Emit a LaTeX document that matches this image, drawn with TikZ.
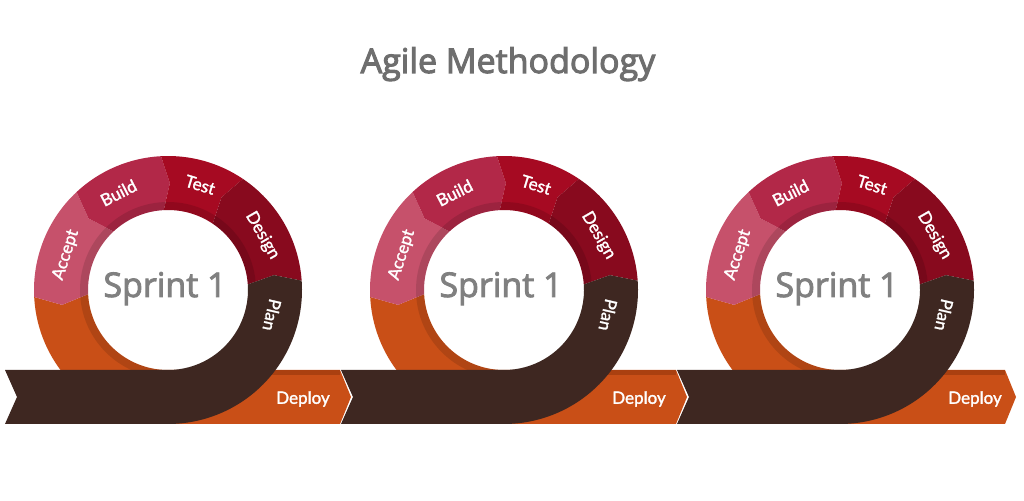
\documentclass[tikz,border=0pt]{standalone}
\usepackage{fontspec}
\setmainfont{Open Sans}
\newfontfamily\labelfont{Lato}[FakeBold=1.6]
\newfontfamily\headfont{Open Sans}[FakeBold=3]
\newfontfamily\sprintfont{Open Sans}[FakeBold=2.6]
\definecolor{titlegray}{RGB}{110,110,110}
\definecolor{sprintgray}{RGB}{128,128,128}
\definecolor{acceptc}{RGB}{198,81,107}
\definecolor{buildc}{RGB}{178,40,72}
\definecolor{testc}{RGB}{166,10,34}
\definecolor{designc}{RGB}{136,10,30}
\definecolor{planc}{RGB}{62,39,33}
\definecolor{orangec}{RGB}{201,79,23}
\definecolor{orangedk}{RGB}{170,64,16}
\tikzset{
  lbl/.style={text=white, font=\labelfont\fontsize{17}{19}\selectfont, inner sep=0pt},
  sprint/.style={text=sprintgray, font=\sprintfont\fontsize{34}{38}\selectfont, inner sep=0pt},
  titlestyle/.style={text=titlegray, font=\headfont\fontsize{34}{40}\selectfont, inner sep=0pt}
}
\newcommand\agileunit[4]{%
\begin{scope}[shift={(#1,210)}]
  % orange ring part + deploy arrow
  \fill[orangec] (183:134) arc[start angle=183,end angle=270,radius=134] -- (#3,-134) -- (#4,-107) -- (#3,-80) -- (0,-80) arc[start angle=270,end angle=183,radius=80] -- (188:107) -- cycle;
  \fill[orangedk] (0,-85) rectangle (#3,-80);
  % accept
  \fill[acceptc] (133:134) arc[start angle=133,end angle=183,radius=134] -- (188:107) -- (183:80) arc[start angle=183,end angle=133,radius=80] -- (138:107) -- cycle;
  % build
  \fill[buildc] (93:134) arc[start angle=93,end angle=133,radius=134] -- (138:107) -- (133:80) arc[start angle=133,end angle=93,radius=80] -- (89:107) -- cycle;
  % test
  \fill[testc] (56:134) arc[start angle=56,end angle=93,radius=134] -- (89:107) -- (93:80) arc[start angle=93,end angle=56,radius=80] -- (60:107) -- cycle;
  % design
  \fill[designc] (4:134) arc[start angle=4,end angle=56,radius=134] -- (60:107) -- (56:80) arc[start angle=56,end angle=4,radius=80] -- (8:107) -- cycle;
  % inner rim shadow
  \fill[black,opacity=0.12,even odd rule] (0,0) circle[radius=88] (0,0) circle[radius=80];
  % plan + dark band
  \fill[planc] (4:134) arc[start angle=4,end angle=-90,radius=134] -- (-163,-134) -- (-151,-107) -- (-163,-80) -- (0,-80) arc[start angle=-90,end angle=4,radius=80] -- (8:107) -- cycle;
  % labels
  \node[lbl, rotate=72] (#2-accept) at (161:108) {Accept};
  \node[lbl, rotate=27] (#2-build) at (117:109) {Build};
  \node[lbl, rotate=-17] (#2-test) at (73:110) {Test};
  \node[lbl, rotate=-60] (#2-design) at (30:109) {Design};
  \node[lbl, rotate=-103] (#2-plan) at (-13.5:107) {Plan};
  \node[lbl] (#2-deploy) at (135,-109) {Deploy};
  \node[sprint, anchor=base] (#2-sprint) at (-3,-7) {Sprint 1};
\end{scope}}
\begin{document}
\begin{tikzpicture}[x=1pt,y=1pt]
\useasboundingbox (0,0) rectangle (1024,500);
\node[titlestyle, anchor=base] (title) at (508,427) {Agile Methodology};
\agileunit{168}{s1}{172}{183}
\agileunit{504}{s2}{172}{183}
\agileunit{840}{s3}{165}{176}
\end{tikzpicture}
\end{document}
